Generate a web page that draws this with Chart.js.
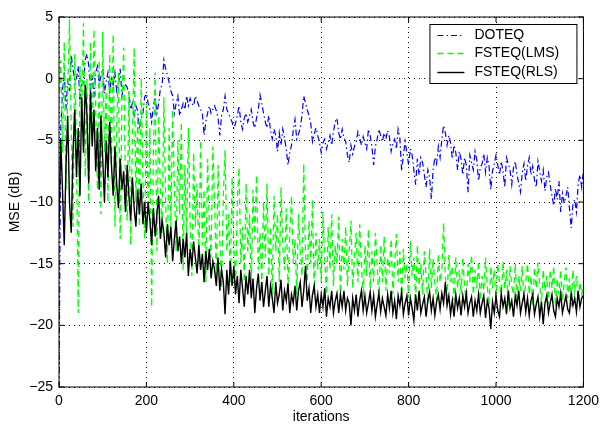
<!DOCTYPE html>
<html lang="en">
<head>
  <meta charset="UTF-8" />
  <title>MSE vs iterations</title>
  <script src="https://cdn.jsdelivr.net/npm/chart.js"></script>
  <style>
    html, body { margin: 0; padding: 0; background: #fff; }
    canvas { display: block; }
  </style>
</head>
<body>
  <canvas id="mseChart" width="605" height="431"></canvas>

  <script>
    // one stored sample every STEP iterations
    const STEP = 4;
    const xTicks = [0, 200, 400, 600, 800, 1000, 1200];
    const yTicks = [-25, -20, -15, -10, -5, 0, 5];

    const doteq = [
      -25, -4, -1, 0.5, -2.5, 0, -1, 1.9, 0.8, -0.2,
      0, 1, -2, -0.5, -0.3, 1.5, 2, 1.1, -1, 0.3,
      -1.5, 0.5, 1, -0.5, 0.2, 0.8, -1.2, -0.2, 0.5, -1,
      0, -0.5, 0.5, -1, -0.5, 0.8, -1.4, -0.6, -0.5, -0.7,
      -1.2, -2.5, -2, -3, -2.2, -2.6, -4.1, -3.2, -2.8, -1.5,
      -1.2, -2, -2.5, -3.5, -2.2, -1.5, -2.8, -2, -0.8, -0.5,
      1.5, 0.8, 0.3, -0.3, -1, -1.4, -2.8, -2, -1.4, -3,
      -2.5, -2, -2.5, -1.4, -2.2, -1.6, -2, -2.2, -1.4, -1.8,
      -2.2, -2.5, -2.8, -4.6, -3.5, -2.8, -2.2, -2.8, -2.5, -2.2,
      -2.6, -3.2, -4.6, -3, -2.5, -1.4, -2.5, -2.8, -3.2, -3.5,
      -4.1, -3.6, -3, -2.2, -3.5, -4.1, -3.2, -2.8, -3.5, -3,
      -2.5, -3.5, -4, -3.2, -2.5, -1.3, -2, -2.8, -3.5, -4,
      -3, -4.2, -4.9, -4.1, -4.6, -5.9, -4.4, -5.4, -4.1, -4.8,
      -5.7, -7, -6, -5.4, -4.2, -3.3, -4.9, -4.5, -4, -3,
      -1.4, -2, -2.5, -3, -3.6, -5.1, -4.5, -4, -4.6, -5.2,
      -6, -5.2, -4.9, -5.7, -5.2, -4.6, -5.4, -4.3, -3.5, -3.2,
      -4.4, -4.9, -4.1, -4.8, -5.1, -6.2, -6.8, -5.4, -6.1, -5.5,
      -5.1, -4.3, -4.8, -5.4, -4.7, -5.2, -5.7, -4.1, -4.6, -5.5,
      -7, -5.5, -4.9, -4.1, -4.6, -5.1, -4.4, -4.9, -4.2, -4.7,
      -5.9, -5.2, -4.9, -5.7, -4.1, -4.8, -7.5, -6.2, -5.1, -6,
      -7, -5.7, -6.2, -7.4, -8.6, -6.5, -7.8, -6.4, -6.8, -7.8,
      -8.8, -7.4, -8, -9.8, -7.4, -6.4, -6.9, -5.5, -6.4, -4.9,
      -3.8, -4.4, -5.4, -4.6, -5.2, -6.5, -5.4, -6, -7.4, -5.9,
      -6.5, -7.8, -6.4, -7, -9.2, -6.2, -6.8, -7.4, -5.9, -6.6,
      -8.3, -7.2, -6.9, -6.1, -7.6, -6.4, -7.1, -9, -7.5, -6.9,
      -6.2, -7, -7.8, -6.7, -7.5, -8.8, -6.4, -6.9, -7.4, -8.6,
      -7.2, -6.7, -7.8, -8.5, -9.2, -7.6, -6.9, -8.3, -7.1, -6.4,
      -7.8, -7.1, -8.2, -8.8, -6.7, -7.5, -8.3, -7.4, -9.1, -8,
      -7.6, -8.6, -9.5, -10.3, -8.9, -9.8, -8.3, -10.8, -9.3, -10.1,
      -9.5, -8.8, -10.5, -12.1, -10.2, -9.8, -10.8, -8.5, -7.8, -8.8,
      -7.4
    ];

    const fsteqLms = [
      -2, 1.5, -6, 3, -9, -1, 4.8, -4, -12, 2,
      -6, -19, 1, -3, 4.5, -8, 0, -10, 3, -5,
      4, -2.5, -9, 1.5, -11, 3.8, -6, -1, -10, 2,
      -7, 3.6, -12, -4, 0.5, -13, -2, 2.5, -9, -11.5,
      -1, -13.5, -5, 2.5, -10, -3, -12, 0, -8, -13,
      -2, -11, -4, -18.5, -6, 0.5, -14, -3, -9, -12.5,
      -1.5, -10, -15, -4, -12, -2.5, -9, -14, -5, -11,
      -3.5, -15.5, -7, -13, -4, -11.5, -16, -6, -12, -8.5,
      -15, -5, -13.5, -9, -16.5, -6.5, -12, -14.5, -5.5, -10,
      -16, -7, -13, -17, -9.5, -5.8, -14, -11, -16.5, -8,
      -13.5, -17, -10, -7.2, -15, -12, -16.5, -8.5, -14, -11,
      -17, -9, -13, -7.8, -15.5, -12.5, -16.8, -10, -14.5, -8.5,
      -16, -12, -17.5, -9.5, -14, -11, -16.5, -8.8, -13.5, -15.5,
      -10.5, -17, -12.5, -9.5, -15, -13, -17.5, -11, -14, -16,
      -6.9, -14, -16.5, -11.5, -15, -9.8, -17.5, -12.5, -15.5, -13,
      -16.5, -10.8, -14.5, -17.5, -12, -15.5, -11, -16.8, -13.5, -15,
      -11.2, -17.8, -13, -15.5, -12, -16.8, -14, -11.5, -17, -14.5,
      -12.5, -16.5, -11.8, -15, -17.8, -13.5, -16, -12.2, -17, -14,
      -16.5, -12.5, -15, -18, -13.5, -16.5, -12.8, -17.2, -14.5, -15.8,
      -13, -17.5, -15, -12.6, -16.5, -14, -18, -13.8, -16.2, -15,
      -17.8, -13.2, -16, -14.5, -18.2, -13.5, -16.8, -15, -17.5, -14,
      -16, -18.2, -13.8, -17, -14.6, -16.5, -18, -14.2, -16.5, -15.5,
      -11.7, -16, -17.8, -14.3, -16.5, -15.2, -18, -14.5, -17, -15.5,
      -17.5, -14.5, -16.8, -18.2, -15, -16.5, -14.3, -17.5, -15.5, -17,
      -14.8, -18, -16, -17.2, -14.5, -16.8, -18.4, -15.2, -17, -15.5,
      -18, -15, -16.5, -17.8, -14.8, -17, -15.5, -18.4, -15.2, -16.8,
      -17.5, -15, -18.2, -16, -17.2, -15.2, -18, -16.5, -15, -17.5,
      -16, -18.5, -15.3, -17, -14.9, -16.8, -18.2, -15.5, -17.2, -16,
      -18.3, -15.5, -17, -15.2, -18.5, -16.2, -17.5, -15.5, -18, -16.5,
      -15.3, -17.8, -16.2, -18.5, -15.5, -17.2, -16, -18, -16.5, -17.5,
      -16.8
    ];

    const fsteqRls = [
      -12, -5, -9, -13.5, -7, -3, -10, -12.5, -6, -2.5,
      -8, -4, -9.5, -1.5, -6, -0.5, -3, -8.5, -1, -5.5,
      -2.5, -7.5, -4, -9, -3, -6.5, -10, -5, -8, -3.5,
      -7, -9.5, -5.5, -8.5, -10.5, -6.5, -9, -7.5, -10.8, -7,
      -9.5, -11.5, -8, -10.5, -12, -9, -11, -8.5, -11.8, -10,
      -12.5, -10, -11.5, -13.5, -10.5, -12.8, -11, -9.5, -13, -11.5,
      -12.5, -14.5, -11.8, -13.5, -12, -14.8, -13, -11.5, -14, -12.8,
      -15, -13, -14.5, -12.5, -16, -13.8, -15.2, -13.2, -14.5, -15.8,
      -13.5, -15.5, -14.2, -16.5, -14, -15.5, -13.8, -16.2, -14.8, -15.5,
      -16.8, -14.5, -17.2, -15.5, -16.5, -19.1, -15.5, -17.5, -14.8, -16.8,
      -15.2, -17.5, -16, -18.2, -15.5, -17, -18.5, -16, -17.5, -15.5,
      -17.8, -16.2, -19, -17, -15.8, -18, -16.5, -18.5, -17.2, -16,
      -18.5, -16.8, -17.8, -19, -16.5, -18.2, -17.5, -16.3, -18.8, -17.2,
      -18, -16.6, -19, -17.5, -18.2, -16.8, -18.8, -17.2, -16.5, -18.5,
      -17.2, -15.2, -18, -17, -19, -17.5, -16.8, -18.5, -17.5, -19,
      -17.5, -18.5, -17, -19.3, -17.8, -18.5, -17.2, -19, -18, -17.4,
      -19, -17.5, -18.5, -17.2, -18.8, -17.8, -18.2, -20, -17.8, -18.8,
      -17.5, -19.3, -18, -17.2, -18.8, -17.6, -19, -18.2, -17.3, -18.8,
      -17.6, -19.3, -18.3, -17.4, -18.9, -17.8, -18.5, -19.2, -17.5, -18.6,
      -17.2, -19, -18, -19.5, -17.6, -18.4, -17.3, -19.1, -18.2, -17.6,
      -19.2, -17.8, -18.6, -19.6, -17.5, -18.8, -17.2, -19, -18.3, -17.7,
      -19.3, -18, -17.3, -18.8, -17.8, -19.2, -18.1, -17.5, -18.7, -17.4,
      -18.2, -16.5, -18.4, -17.6, -19.1, -18, -19.3, -17.5, -18.6, -17.8,
      -19.2, -17.6, -18.5, -17.4, -19, -18.2, -17.7, -19.3, -18, -18.8,
      -17.5, -19, -18.2, -17.6, -19.4, -18, -18.6, -20.3, -18.1, -19,
      -17.6, -18.8, -19.3, -17.4, -18.5, -17.8, -19.1, -17.2, -18.6, -18,
      -19.3, -17.6, -18.4, -17.2, -19, -18.2, -17.5, -18.9, -17.8, -19.2,
      -18, -17.5, -19.1, -18.3, -17.7, -19.3, -18.1, -19.9, -18.2, -17.6,
      -19, -18.2, -17.5, -18.8, -19.3, -17.8, -18.5, -17.4, -19, -18.3,
      -17.6, -18.7, -19, -17.4, -18.4, -17.8, -18.9, -17.2, -18.5, -17.8,
      -17.6
    ];

    const FONT = '"Liberation Sans", Arial, Helvetica, sans-serif';

    function toPoints(vals) {
      return vals.map((v, i) => ({ x: i * STEP, y: v }));
    }

    // axes box with inward tick marks on all four sides
    const boxPlugin = {
      id: 'boxPlugin',
      afterDatasetsDraw(chart) {
        const { ctx, chartArea: a, scales } = chart;
        const len = 5;
        ctx.save();
        ctx.strokeStyle = '#000';
        ctx.lineWidth = 1;
        ctx.setLineDash([]);
        ctx.strokeRect(a.left, a.top, a.right - a.left, a.bottom - a.top);
        ctx.beginPath();
        xTicks.forEach(t => {
          const px = scales.x.getPixelForValue(t);
          ctx.moveTo(px, a.bottom); ctx.lineTo(px, a.bottom - len);
          ctx.moveTo(px, a.top); ctx.lineTo(px, a.top + len);
        });
        yTicks.forEach(t => {
          const py = scales.y.getPixelForValue(t);
          ctx.moveTo(a.left, py); ctx.lineTo(a.left + len, py);
          ctx.moveTo(a.right, py); ctx.lineTo(a.right - len, py);
        });
        ctx.stroke();
        ctx.restore();
      }
    };

    // boxed legend in the upper right corner of the plot
    const legendPlugin = {
      id: 'legendPlugin',
      afterDraw(chart) {
        const { ctx, chartArea: a } = chart;
        const w = 147, h = 59;
        const x0 = a.right - 154, y0 = a.top + 7;
        ctx.save();
        ctx.fillStyle = '#fff';
        ctx.fillRect(x0, y0, w, h);
        ctx.strokeStyle = '#000';
        ctx.lineWidth = 1;
        ctx.strokeRect(x0 + 0.5, y0 + 0.5, w, h);
        ctx.font = '14px ' + FONT;
        ctx.textBaseline = 'middle';
        chart.data.datasets.forEach((ds, i) => {
          const y = Math.round(y0 + 11 + i * 18.4) + 0.5;
          ctx.strokeStyle = ds.borderColor;
          ctx.lineWidth = ds.borderWidth;
          ctx.setLineDash(ds.borderDash || []);
          ctx.beginPath();
          ctx.moveTo(x0 + 8, y);
          ctx.lineTo(x0 + 35, y);
          ctx.stroke();
          ctx.setLineDash([]);
          ctx.fillStyle = '#000';
          ctx.fillText(ds.label, x0 + 45, y);
        });
        ctx.restore();
      }
    };

    const tickFont = { family: FONT, size: 14 };

    new Chart(document.getElementById('mseChart'), {
      type: 'line',
      data: {
        datasets: [
          {
            label: 'DOTEQ',
            data: toPoints(doteq),
            borderColor: '#0000ff',
            borderWidth: 1.2,
            borderDash: [6, 3, 1.5, 3],
            pointRadius: 0,
            order: 3
          },
          {
            label: 'FSTEQ(LMS)',
            data: toPoints(fsteqLms),
            borderColor: '#00ff00',
            borderWidth: 1.3,
            borderDash: [6, 4],
            pointRadius: 0,
            order: 2
          },
          {
            label: 'FSTEQ(RLS)',
            data: toPoints(fsteqRls),
            borderColor: '#000000',
            borderWidth: 1.4,
            pointRadius: 0,
            order: 1
          }
        ]
      },
      options: {
        responsive: false,
        devicePixelRatio: 1,
        animation: false,
        layout: { padding: { top: 17, right: 19, left: 0, bottom: 0 } },
        plugins: {
          legend: { display: false },
          tooltip: { enabled: false }
        },
        scales: {
          x: {
            type: 'linear',
            min: 0,
            max: 1200,
            afterBuildTicks: s => { s.ticks = xTicks.map(v => ({ value: v })); },
            afterFit: s => { s.height = 44; },
            ticks: {
              color: '#000',
              font: tickFont,
              padding: 6,
              maxRotation: 0,
              autoSkip: false,
              callback: v => String(v)
            },
            grid: { color: '#000', lineWidth: 1, drawTicks: false },
            border: { display: false, dash: [1, 4] },
            title: {
              display: true,
              text: 'iterations',
              color: '#000',
              font: tickFont,
              padding: { top: 0, bottom: 5 }
            }
          },
          y: {
            min: -25,
            max: 5,
            afterBuildTicks: s => { s.ticks = yTicks.map(v => ({ value: v })); },
            afterFit: s => { s.width = 59; },
            ticks: {
              color: '#000',
              font: tickFont,
              padding: 6,
              callback: v => String(v).replace('-', '\u2212')
            },
            grid: { color: '#000', lineWidth: 1, drawTicks: false },
            border: { display: false, dash: [1, 4] },
            title: {
              display: true,
              text: 'MSE (dB)',
              color: '#000',
              font: tickFont,
              padding: { top: 7, bottom: 0 }
            }
          }
        }
      },
      plugins: [boxPlugin, legendPlugin]
    });
  </script>
</body>
</html>
